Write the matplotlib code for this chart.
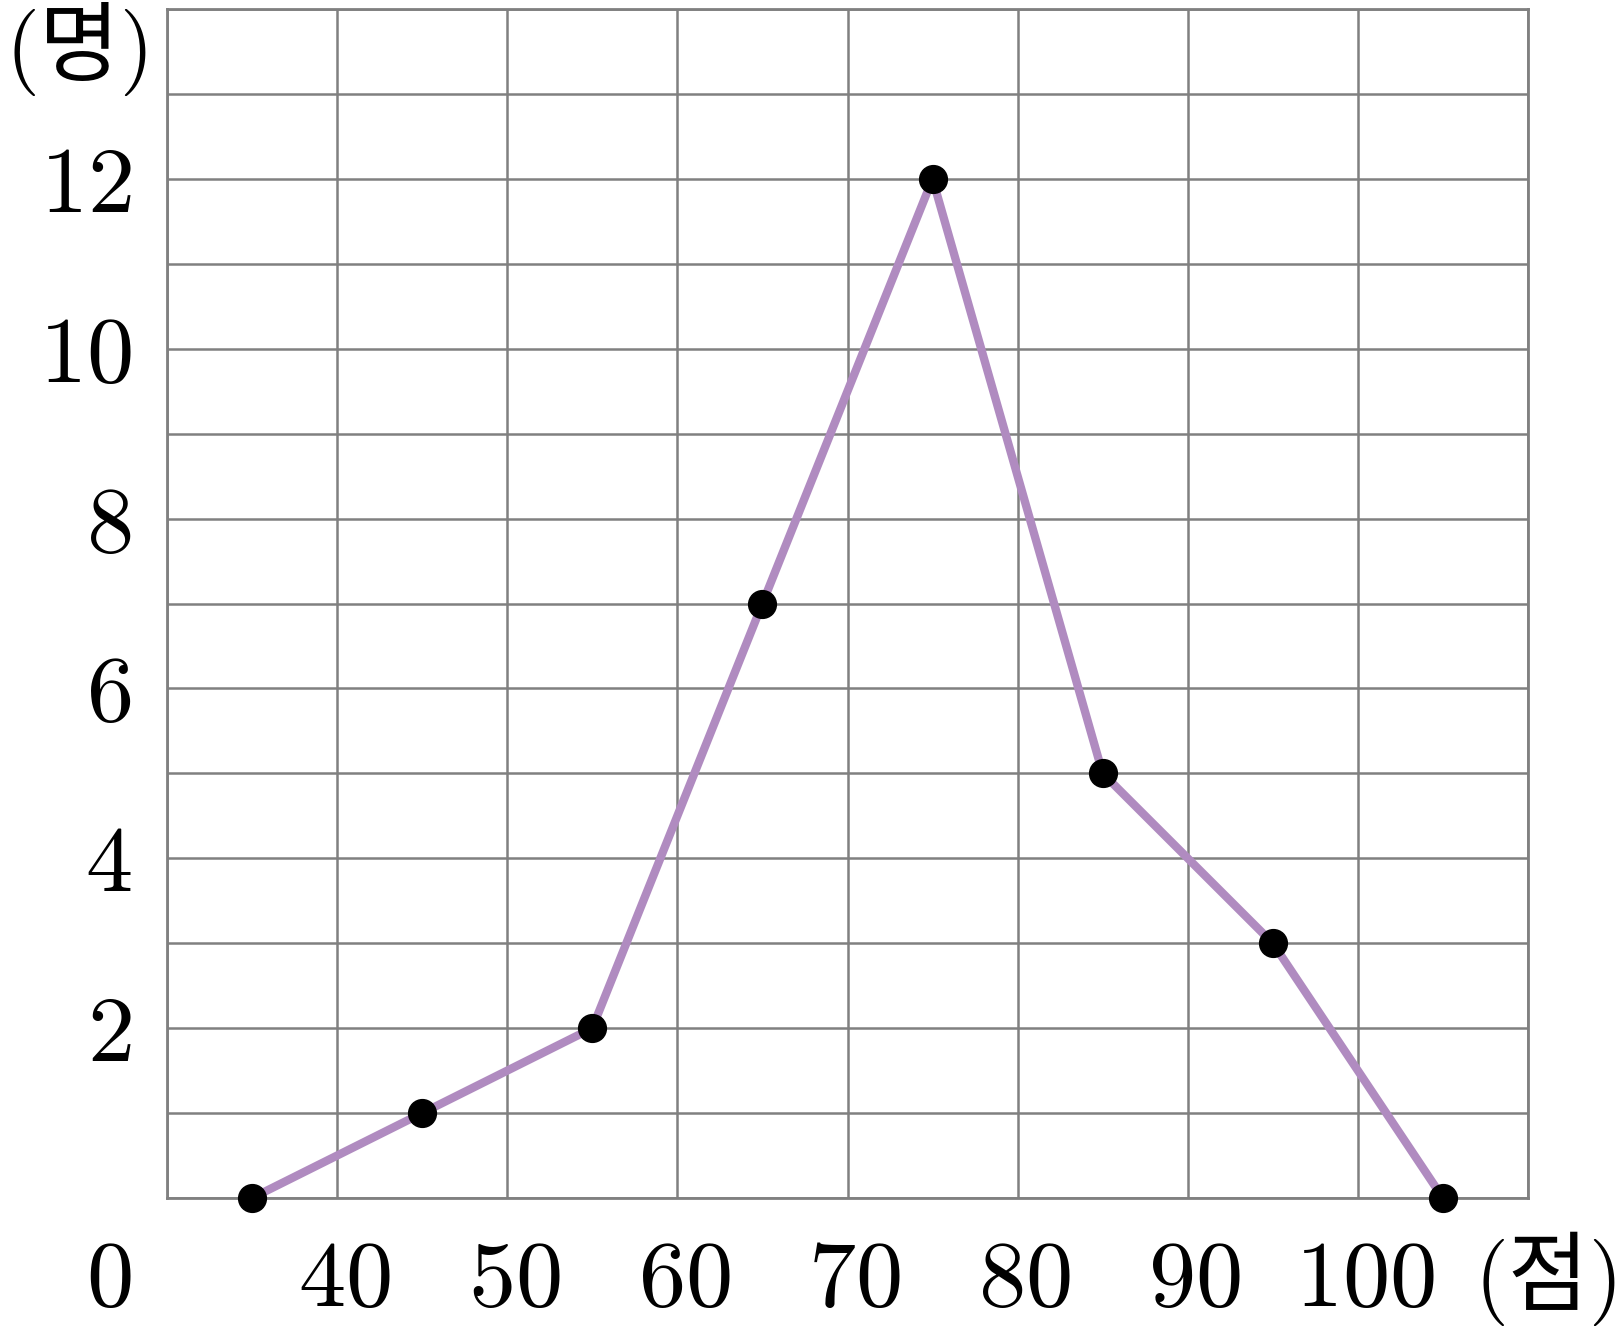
import matplotlib
matplotlib.use("Agg")
import matplotlib.pyplot as plt

plt.rcParams['mathtext.fontset'] = 'cm'
plt.rcParams['font.family'] = ['Noto Sans CJK KR', 'DejaVu Sans']

# Data
scores = [35, 45, 55, 65, 75, 85, 95, 105]
counts = [0, 1, 2, 7, 12, 5, 3, 0]
x_tick_vals = [40, 50, 60, 70, 80, 90, 100]
y_tick_vals = [2, 4, 6, 8, 10, 12]
x_unit = '점'
y_unit = '명'

W, H = 1619, 1337
fig = plt.figure(figsize=(W / 100, H / 100), dpi=100)
ax = fig.add_axes([167 / W, 1 - 1198 / H, (1528 - 167) / W, (1198 - 9) / H])

ax.set_xlim(30, 110)
ax.set_ylim(0, 14)
ax.set_xticks(range(30, 111, 10))
ax.set_yticks(range(0, 15))
ax.grid(True, color='#808080', linewidth=1.8)
ax.set_axisbelow(True)
for s in ax.spines.values():
    s.set_color('#808080')
    s.set_linewidth(2.0)
ax.tick_params(length=0, labelbottom=False, labelleft=False)

ax.plot(scores, counts, color='#B08BC0', linewidth=6.0, solid_capstyle='round',
        marker='o', markersize=20, markerfacecolor='black', markeredgecolor='black',
        clip_on=False, zorder=3)

fs = 68
for v in x_tick_vals:
    ax.text(v + 0.4, -0.95, f'${v}$', ha='center', va='center', fontsize=fs)
for v in y_tick_vals:
    ax.text(27.9, v - 0.07, f'${v}$', ha='right', va='center', fontsize=fs)
ax.text(26.55, -0.95, '$0$', ha='center', va='center', fontsize=fs)
ax.text(24.65, 13.52, f'$($' + y_unit + '$)$', ha='center', va='center', fontsize=63)
ax.text(111.0, -0.95, f'$($' + x_unit + '$)$', ha='center', va='center', fontsize=63)

fig.savefig('out.png', dpi=100, facecolor='white')
